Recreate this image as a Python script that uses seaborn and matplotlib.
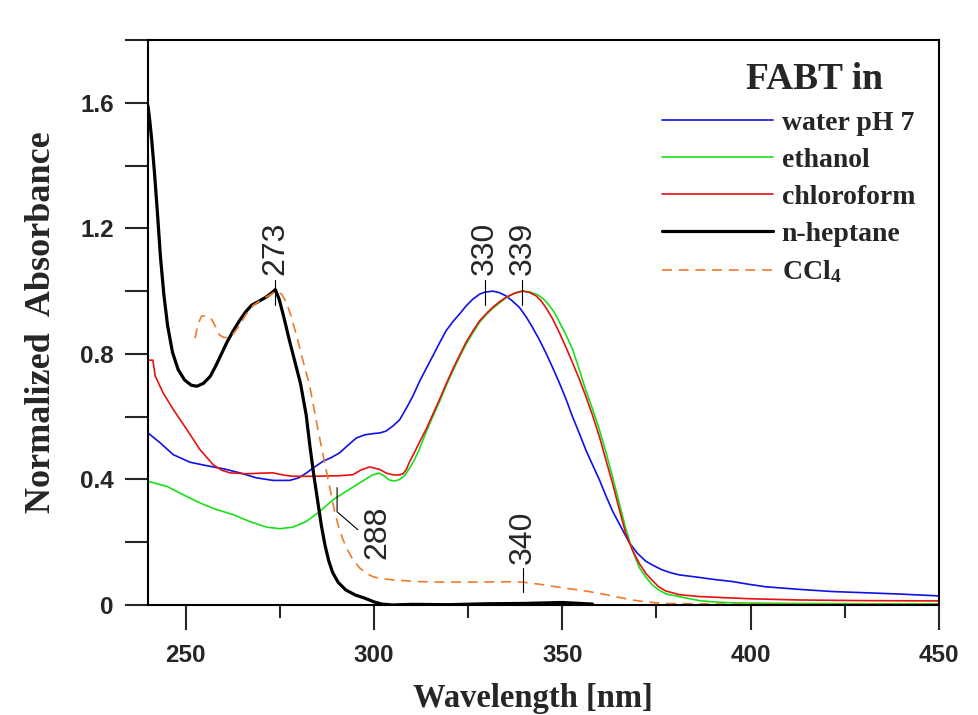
import numpy as np
import pandas as pd
import matplotlib
matplotlib.use("Agg")
import matplotlib.pyplot as plt
from matplotlib.ticker import MultipleLocator, FuncFormatter
import seaborn as sns

# values (wavelength nm, normalized absorbance)
water_x = [240, 243.2, 246.7, 251.1, 255.5, 260, 264.4, 268.8, 273.2, 277.6, 280, 282, 284,
           286.5, 288.7, 290.9, 293, 295.3, 297.5, 299.7, 301.5, 303.2, 305, 306.8, 308.5,
           310.3, 312, 313.8, 315.6, 317.4, 319.1, 320.9, 322.7, 324.4, 326.2, 328, 329.5,
           331.5, 333.3, 335, 336.8, 338.6, 340.4, 342.1, 343.9, 345.6, 347.4, 349.2, 351,
           352.7, 354.5, 356.2, 358, 359.8, 361.5, 363.3, 365.5, 367.7, 369.9, 372.1, 374.3,
           376.5, 378.7, 381, 386.3, 390.5, 395, 399.5, 404, 412.7, 421.5, 430.4, 439.3, 450]
water_y = [0.548, 0.517, 0.479, 0.455, 0.444, 0.434, 0.421, 0.405, 0.397, 0.397, 0.405, 0.42,
           0.438, 0.458, 0.47, 0.485, 0.508, 0.532, 0.542, 0.546, 0.548, 0.554, 0.57, 0.59,
           0.625, 0.665, 0.71, 0.752, 0.793, 0.835, 0.873, 0.902, 0.927, 0.952, 0.974, 0.99,
           0.997, 1.0, 0.995, 0.985, 0.968, 0.948, 0.918, 0.884, 0.845, 0.804, 0.757, 0.708,
           0.655, 0.60, 0.547, 0.495, 0.447, 0.40, 0.35, 0.30, 0.25, 0.20, 0.165, 0.140,
           0.125, 0.112, 0.103, 0.096, 0.088, 0.081, 0.075, 0.066, 0.058, 0.05, 0.043, 0.039,
           0.035, 0.029]

ethanol_x = [240, 245, 249.4, 253.8, 258.2, 262.6, 267, 271.5, 275, 278.5, 282, 285.6, 289.1,
             292.6, 296.2, 299.7, 301.5, 302.8, 304.1, 305.5, 306.8, 308.1, 309.4, 310.7, 312,
             313.8, 315.6, 317.4, 319.1, 320.9, 322.7, 324.4, 326.2, 328, 329.8, 331.5, 333.3,
             335, 336.8, 338.4, 339.8, 341.5, 343.5, 345, 346.5, 348, 349.5, 351, 352.7, 354.5,
             356.2, 358, 359.8, 361.5, 363.3, 365, 366.8, 368.6, 370.4, 372.2, 373.9, 375.6,
             377.4, 379.2, 381, 386.3, 390, 395, 410, 430, 450]
ethanol_y = [0.394, 0.378, 0.351, 0.325, 0.304, 0.288, 0.266, 0.248, 0.243, 0.248, 0.266, 0.298,
             0.335, 0.362, 0.389, 0.415, 0.42, 0.41, 0.398, 0.395, 0.40, 0.412, 0.435, 0.462,
             0.495, 0.55, 0.60, 0.648, 0.697, 0.745, 0.79, 0.83, 0.866, 0.9, 0.925, 0.945,
             0.962, 0.978, 0.99, 0.998, 1.0, 0.997, 0.988, 0.975, 0.955, 0.93, 0.895, 0.86,
             0.815, 0.75, 0.685, 0.625, 0.56, 0.49, 0.41, 0.33, 0.245, 0.175, 0.12, 0.088,
             0.064, 0.048, 0.036, 0.031, 0.027, 0.014, 0.01, 0.007, 0.005, 0.004, 0.004]

chloro_x = [240, 241.3, 241.9, 244, 246.7, 250.3, 253.8, 257.3, 259.5, 261.7, 266.1, 270,
            273.2, 276, 278.5, 283.8, 290.9, 294.4, 296.5, 298.8, 301.5, 303.3, 305, 306.5,
            307.7, 308.6, 309.4, 310.7, 312, 313.8, 315.6, 317.4, 319.1, 320.9, 322.7, 324.4,
            326.2, 328, 329.8, 331.5, 333.3, 335, 337.2, 339.4, 341.2, 343, 344.3, 345.6,
            347.4, 349.2, 351, 352.7, 354.5, 356.2, 358, 359.8, 361.5, 363.3, 365, 366.8,
            368.6, 370.4, 372.2, 373.9, 375.6, 377.4, 381, 386.3, 399.5, 412.7, 430, 450]
chloro_y = [0.78, 0.78, 0.73, 0.676, 0.623, 0.559, 0.495, 0.447, 0.43, 0.421, 0.418, 0.42,
            0.421, 0.414, 0.41, 0.41, 0.412, 0.415, 0.43, 0.44, 0.432, 0.42, 0.415, 0.414,
            0.418, 0.432, 0.455, 0.485, 0.517, 0.559, 0.607, 0.655, 0.703, 0.751, 0.795,
            0.836, 0.872, 0.905, 0.928, 0.948, 0.966, 0.98, 0.993, 1.0, 0.996, 0.985, 0.97,
            0.948, 0.912, 0.868, 0.82, 0.772, 0.72, 0.666, 0.605, 0.538, 0.465, 0.389, 0.31,
            0.229, 0.175, 0.133, 0.1, 0.078, 0.058, 0.045, 0.033, 0.027, 0.02, 0.016, 0.014,
            0.013]

heptane_x = [240, 240.5, 241, 241.7, 242.5, 243.3, 244.2, 245.2, 246.5, 248, 249.7, 251.5,
             253, 254.7, 256.5, 258, 259.5, 261, 262.7, 264.4, 266, 267.5, 269.5, 271.5, 273,
             273.8, 274.8, 276, 277.5, 279, 280.5, 282, 283, 284, 285, 286, 287, 288, 289,
             290.5, 292.5, 295, 297.5, 300, 302, 305, 310, 320, 330, 340, 350, 358]
heptane_y = [1.59, 1.54, 1.48, 1.38, 1.25, 1.11, 0.99, 0.89, 0.805, 0.75, 0.717, 0.70,
             0.697, 0.706, 0.728, 0.762, 0.80, 0.838, 0.875, 0.908, 0.935, 0.955, 0.968,
             0.982, 0.996, 1.005, 0.975, 0.92, 0.845, 0.775, 0.705, 0.605, 0.505, 0.415,
             0.335, 0.255, 0.19, 0.14, 0.104, 0.072, 0.048, 0.032, 0.022, 0.01, 0.003, 0.0,
             0.002, 0.001, 0.004, 0.005, 0.008, 0.003]

ccl4_x = [252.5, 253.3, 254.2, 255.5, 256.9, 258, 259, 260.2, 261.2, 262.5, 264, 266, 268,
          270, 272, 274, 275.5, 276.7, 278, 279.4, 281, 282.9, 284, 285.1, 286.2, 287.3,
          288.4, 289.5, 290.6, 291.7, 293, 294.4, 296.2, 298, 299.8, 301.5, 305, 311, 317,
          325, 335, 339.4, 344, 348.3, 353, 357, 362, 366, 368.6, 372, 377, 390, 410, 430,
          450]
ccl4_y = [0.85, 0.895, 0.92, 0.922, 0.91, 0.885, 0.86, 0.852, 0.853, 0.862, 0.885, 0.925,
          0.955, 0.972, 0.985, 1.0, 0.99, 0.965, 0.92, 0.86, 0.785, 0.70, 0.63, 0.56, 0.495,
          0.43, 0.365, 0.30, 0.25, 0.21, 0.175, 0.144, 0.118, 0.1, 0.09, 0.085, 0.08, 0.075,
          0.073, 0.073, 0.074, 0.073, 0.066, 0.058, 0.05, 0.043, 0.032, 0.022, 0.016, 0.01,
          0.005, 0.003, 0.002, 0.002, 0.002]

solvents = ["water pH 7", "ethanol", "chloroform", "n-heptane", "CCl$_4$"]
colors = ["#1010e8", "#18e018", "#e81010", "#000000", "#f07a2a"]
widths = [1.2, 1.2, 1.2, 2.3, 1.2]

# peak labels: text, x, bottom of text, vertical marker span
peak_text = ["273", "330", "339", "340"]
peak_x = [273.7, 329.5, 339.4, 339.5]
peak_text_y = [1.05, 1.05, 1.05, 0.13]
peak_tick = [(0.955, 1.035), (0.955, 1.035), (0.955, 1.035), (0.04, 0.118)]

frames = []
for name, xs, ys in zip(solvents,
                        [water_x, ethanol_x, chloro_x, heptane_x, ccl4_x],
                        [water_y, ethanol_y, chloro_y, heptane_y, ccl4_y]):
    frames.append(pd.DataFrame({"wl": xs, "abs": ys, "solvent": name}))
df = pd.concat(frames, ignore_index=True)

sns.set_theme(style="ticks")
plt.rcParams["font.family"] = ["Liberation Sans", "DejaVu Sans"]
plt.rcParams["mathtext.fontset"] = "custom"
plt.rcParams["mathtext.rm"] = "Liberation Serif:bold"
plt.rcParams["mathtext.it"] = "Liberation Serif:bold"
plt.rcParams["mathtext.bf"] = "Liberation Serif:bold"

fig = plt.figure(figsize=(9.79, 7.15), dpi=100)
ax = fig.add_axes([148 / 979, 1 - 605 / 715, (939 - 148) / 979, (605 - 40) / 715])

sns.lineplot(data=df, x="wl", y="abs", hue="solvent", style="solvent", size="solvent",
             hue_order=solvents, style_order=solvents, size_order=solvents,
             palette=dict(zip(solvents, colors)),
             sizes=dict(zip(solvents, widths)),
             dashes={s: ("" if s != "CCl$_4$" else (6, 4)) for s in solvents},
             estimator=None, legend=False, ax=ax)

ax.set_xlim(240, 450)
ax.set_ylim(0, 1.8)
ax.xaxis.set_major_locator(MultipleLocator(50))
ax.xaxis.set_minor_locator(MultipleLocator(25))
ax.yaxis.set_major_locator(MultipleLocator(0.4))
ax.yaxis.set_minor_locator(MultipleLocator(0.2))
ax.yaxis.set_major_formatter(FuncFormatter(lambda v, p: "0" if abs(v) < 1e-9 else f"{v:.1f}"))

for s in ax.spines.values():
    s.set_linewidth(1.5)
    s.set_color("black")
ax.tick_params(axis="x", which="major", length=18, width=1.5, pad=10, direction="out")
ax.tick_params(axis="x", which="minor", length=9.5, width=1.5, direction="out")
ax.tick_params(axis="y", which="both", length=16.5, width=1.5, pad=8, direction="out")
for lab in ax.get_xticklabels() + ax.get_yticklabels():
    lab.set_fontsize(17.5)
    lab.set_fontweight("bold")

ax.set_xlabel("Wavelength [nm]", family="Liberation Serif", fontweight="bold",
              fontsize=23.5)
ax.xaxis.set_label_coords((533 - 148) / 791, -0.138)
ax.xaxis.label.set_va("top")
ax.set_ylabel("Normalized  Absorbance", family="Liberation Serif", fontweight="bold",
              fontsize=26, labelpad=16)

# peak markers
for t, x, ty, (y0, y1) in zip(peak_text, peak_x, peak_text_y, peak_tick):
    ax.plot([x, x], [y0, y1], color="black", lw=0.8)
    ax.text(x, ty, t, rotation=90, ha="center", va="bottom", fontsize=23)
ax.plot([290.2, 290.2, 295.7], [0.374, 0.297, 0.24], color="black", lw=0.8)
ax.text(301, 0.23, "288", rotation=90, ha="center", va="center", fontsize=23)

handles = ax.lines[:5]
ax.legend(handles, solvents, loc="upper left", bbox_to_anchor=(0.65, 0.876),
          frameon=False, borderpad=0, borderaxespad=0, handlelength=4.0,
          handletextpad=0.3, labelspacing=0.42,
          prop={"family": "Liberation Serif", "weight": "bold", "size": 20})
ax.text(0.843, 0.93, "FABT in", transform=ax.transAxes, ha="center", va="center",
        family="Liberation Serif", fontweight="bold", fontsize=27)

fig.savefig("out.png", dpi=100)
